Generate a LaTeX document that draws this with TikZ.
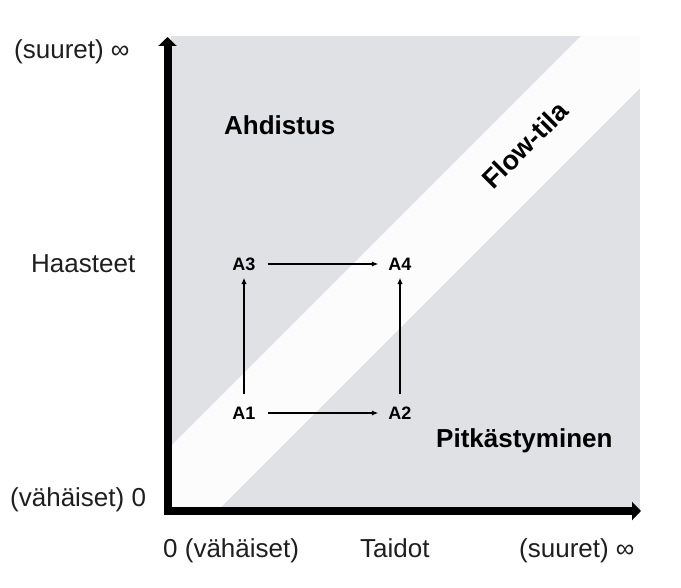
\documentclass[tikz,border=0pt]{standalone}
\usepackage{fontspec}
\setmainfont{Liberation Sans}
\usetikzlibrary{arrows.meta}
\definecolor{zonegrey}{RGB}{224,225,228}
\definecolor{bandwhite}{RGB}{252,252,252}
\definecolor{inktext}{RGB}{30,30,30}

\begin{document}
\begin{tikzpicture}[x=1pt,y=-1pt,
  axislabel/.style={font=\fontsize{26}{30}\selectfont, text=inktext, inner sep=0pt, anchor=base west},
  zonelabel/.style={font=\fontsize{26}{30}\selectfont\bfseries, inner sep=0pt, anchor=base west},
  statenode/.style={font=\fontsize{18}{20}\selectfont\bfseries, inner sep=0pt, text height=12.9pt, text depth=0pt},
  move/.style={line width=1.5pt, -{Latex[length=6.5pt,width=5.5pt]}},
  axisline/.style={line width=8pt, -{Triangle[length=9pt,width=18pt]}}]

\useasboundingbox (0,0) rectangle (681,588);

% skill/challenge plane and the diagonal flow channel
\fill[zonegrey] (171,36) rectangle (640,511);
\fill[bandwhite] (171,446) -- (581,36) -- (640,36) -- (640,88) -- (217,511) -- (171,511) -- cycle;

% axes
\draw[axisline] (167.5,515) -- (167.5,37);
\draw[axisline] (163.5,511) -- (641,511);

% axis labels
\node[axislabel] (ytop) at (14,59) {(suuret) ∞};
\node[axislabel] (ymid) at (31,273) {Haasteet};
\node[axislabel] (ylow) at (10,506) {(vähäiset) 0};
\node[axislabel] (xlow) at (163,557) {0 (vähäiset)};
\node[axislabel] (xmid) at (360,557) {Taidot};
\node[axislabel] (xtop) at (519,557) {(suuret) ∞};

% zone labels
\node[zonelabel] (anx) at (224,135) {Ahdistus};
\node[zonelabel] (bore) at (436,447) {Pitkästyminen};
\node[font=\fontsize{27}{30}\selectfont\bfseries, inner sep=0pt, rotate=45] (flow) at (525,145) {Flow-tila};

% states
\node[statenode] (A1) at (244,413) {A1};
\node[statenode] (A2) at (400,413) {A2};
\node[statenode] (A3) at (244,264) {A3};
\node[statenode] (A4) at (400,264) {A4};

\draw[move, shorten <=12pt, shorten >=10pt] (A3) -- (A4);
\draw[move, shorten <=12pt, shorten >=10pt] (A1) -- (A2);
\draw[move, shorten <=12pt, shorten >=7pt] (A1) -- (A3);
\draw[move, shorten <=12pt, shorten >=7pt] (A2) -- (A4);
\end{tikzpicture}
\end{document}
